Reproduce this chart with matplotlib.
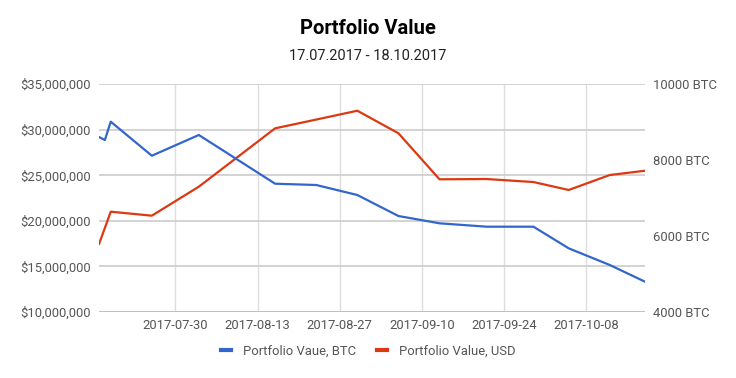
import matplotlib
matplotlib.use("Agg")
import matplotlib.pyplot as plt
import matplotlib.dates as mdates
import numpy as np
import pandas as pd

dates = ["2017-07-17", "2017-07-18", "2017-07-19", "2017-07-26", "2017-08-03",
         "2017-08-16", "2017-08-23", "2017-08-30", "2017-09-06", "2017-09-13",
         "2017-09-21", "2017-09-29", "2017-10-05", "2017-10-12", "2017-10-18"]
value_btc = [8605, 8526, 9008, 8113, 8658, 7376, 7342, 7079, 6526, 6334,
             6245, 6245, 5676, 5237, 4797]
value_usd = [17.46e6, 19.21e6, 21.0e6, 20.56e6, 23.74e6, 30.14e6, 31.1e6, 32.07e6,
             29.6e6, 24.55e6, 24.58e6, 24.25e6, 23.38e6, 25.02e6, 25.49e6]
xtick_labels = ["2017-07-30", "2017-08-13", "2017-08-27", "2017-09-10", "2017-09-24", "2017-10-08"]
usd_ticks = [10e6, 15e6, 20e6, 25e6, 30e6, 35e6]
btc_ticks = [4000, 6000, 8000, 10000]

plt.rcParams['font.family'] = ['Roboto', 'DejaVu Sans']

x = pd.to_datetime(dates)
W, H = 736, 378
fig = plt.figure(figsize=(W / 100, H / 100), dpi=100)
ax = fig.add_axes([99 / W, 1 - 312 / H, (645 - 99) / W, (312 - 84) / H])
ax2 = ax.twinx()

blue = "#3366cc"
red = "#dc3912"
grid_c = "#cccccc"
txt_c = "#555555"

ax.plot(x, value_usd, color=red, lw=1.6, zorder=3, solid_joinstyle="round")
ax2.plot(x, value_btc, color=blue, lw=1.6, zorder=3, solid_joinstyle="round")

ax.set_xlim(pd.Timestamp("2017-07-17"), pd.Timestamp("2017-10-18"))
ax.set_ylim(10e6, 35e6)
ax2.set_ylim(4000, 10000)

ax.set_yticks(usd_ticks)
ax.set_yticklabels(["${:,.0f}".format(v) for v in usd_ticks])
ax2.set_yticks(btc_ticks)
ax2.set_yticklabels(["{} BTC".format(v) for v in btc_ticks])
xt = pd.to_datetime(xtick_labels)
ax.set_xticks(xt)
ax.set_xticklabels(xtick_labels)

for a in (ax, ax2):
    for s in a.spines.values():
        s.set_visible(False)
    a.tick_params(length=0, labelsize=9.4, labelcolor=txt_c)
ax.tick_params(axis="y", pad=6)
ax2.tick_params(axis="y", pad=6)
ax.tick_params(axis="x", pad=5)

ax.grid(True, axis="y", color=grid_c, lw=1.2, zorder=0)
ax.grid(True, axis="x", color="#dddddd", lw=1.0, zorder=0)
ax.axhline(10e6, color="#bbbbbb", lw=1.2, zorder=1)
ax.set_axisbelow(True)
ax2.set_zorder(ax.get_zorder() + 1)
ax2.patch.set_visible(False)

fig.text(0.5, 1 - 28 / H, "Portfolio Value", ha="center", va="center",
         fontsize=14.5, fontweight="bold", color="#000000")
fig.text(0.5, 1 - 56 / H, "17.07.2017 - 18.10.2017", ha="center", va="center",
         fontsize=10.5, color="#222222")

from matplotlib.lines import Line2D
handles = [Line2D([], [], color=blue, lw=3), Line2D([], [], color=red, lw=3)]
fig.legend(handles, ["Portfolio Vaue, BTC", "Portfolio Value, USD"],
           loc="center", bbox_to_anchor=(0.5, 1 - 351 / H), ncol=2, frameon=False,
           fontsize=9.4, labelcolor=txt_c, handlelength=0.8, handletextpad=0.9,
           columnspacing=1.6)

fig.savefig("out.png", dpi=100)
